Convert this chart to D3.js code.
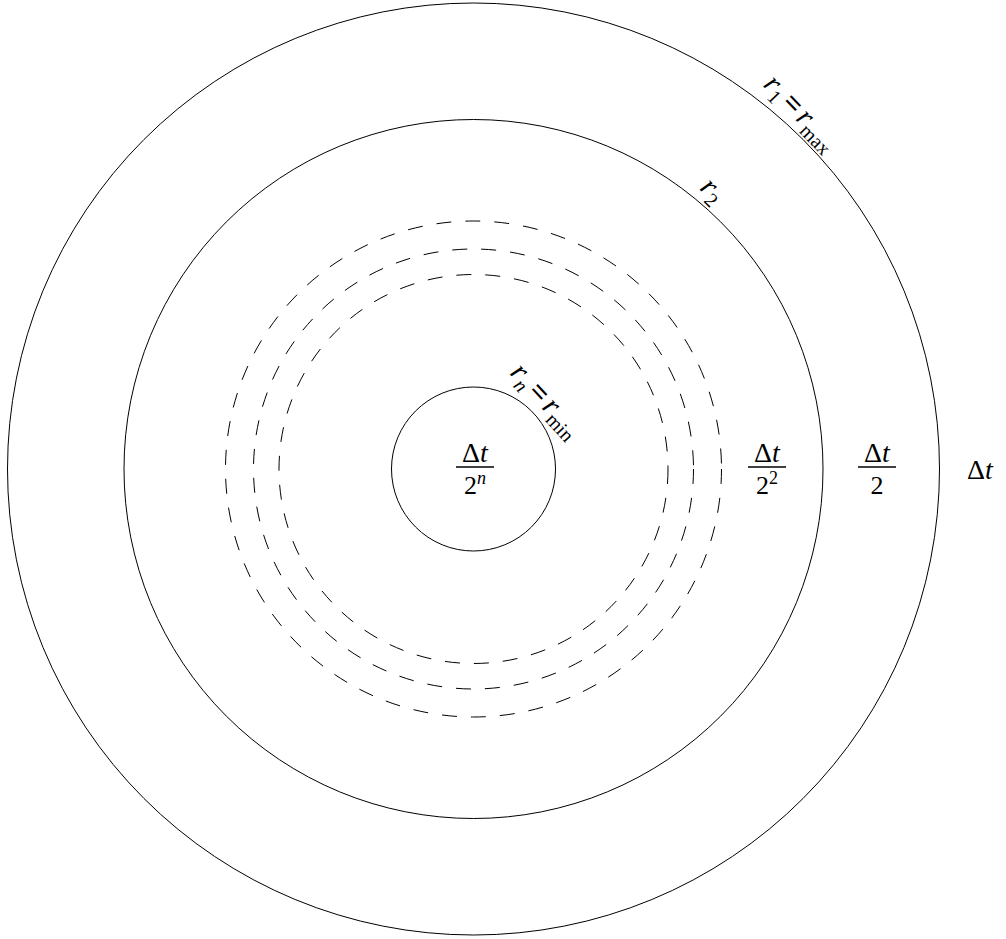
<!DOCTYPE html>
<html><head><meta charset="utf-8">
<script src="https://cdn.jsdelivr.net/npm/d3@7"></script>
<style>
html,body{margin:0;padding:0;background:#fff;}
svg{display:block;}
text{font-family:"Liberation Serif","DejaVu Serif",serif;fill:#000;}
</style></head>
<body>
<svg id="chart" width="1006" height="939"></svg>
<script>
// ---- data ----
const solidRadii = [466, 349.5, 82];          // r1 = rmax, r2, rn = rmin
const dashedRadii = [248, 220, 194.5];        // intermediate levels
const fracNums = ["Δt", "Δt", "Δt", "Δt"];
const fracDens = [["2","n"], ["2","2"], ["2",""], null];
const fracX = [475, 767, 877, 980];           // label positions along the x axis (px)
const radiusLabels = [
  {base:"r", sub:"1", eq:true, base2:"r", sub2:"max", r:466, angle:47.5, rot:46},
  {base:"r", sub:"2", eq:false, r:349.5, angle:49.5, rot:44},
  {base:"r", sub:"n", eq:true, base2:"r", sub2:"min", r:82, angle:43.5, rot:47}
];

const svg = d3.select("#chart");
const cx = 473.5, cy = 469;
const g = svg.append("g").attr("transform", `translate(${cx},${cy})`);

g.selectAll("circle.solid").data(solidRadii).join("circle")
  .attr("class","solid").attr("r", d=>d)
  .attr("fill","none").attr("stroke","#000").attr("stroke-width",1);

g.selectAll("circle.dashed").data(dashedRadii).join("circle")
  .attr("class","dashed").attr("r", d=>d)
  .attr("fill","none").attr("stroke","#000").attr("stroke-width",1)
  .attr("stroke-dasharray","15,14");

// fraction labels
const fs = 28;
fracX.forEach((x,i)=>{
  const lg = svg.append("g").attr("transform",`translate(${x},${cy})`);
  const den = fracDens[i];
  if (den) {
    const num = lg.append("text").attr("text-anchor","middle").attr("y",-7).attr("font-size",fs);
    num.append("tspan").text(fracNums[i][0]);
    num.append("tspan").attr("font-style","italic").text(fracNums[i][1]);
    lg.append("line").attr("x1",-19).attr("x2",19).attr("y1",-2).attr("y2",-2)
      .attr("stroke","#000").attr("stroke-width",1.4);
    const dt = lg.append("text").attr("text-anchor","middle").attr("y",25).attr("font-size",26);
    dt.append("tspan").text(den[0]);
    if (den[1]) dt.append("tspan").attr("dy",-10).attr("font-size",18)
      .attr("font-style", den[1]==="n"?"italic":"normal").text(den[1]);
  } else {
    const t = lg.append("text").attr("text-anchor","middle").attr("y",10).attr("font-size",fs);
    t.append("tspan").text(fracNums[i][0]);
    t.append("tspan").attr("font-style","italic").text(fracNums[i][1]);
  }
});

// radius labels along the circles
radiusLabels.forEach(d=>{
  const a = d.angle*Math.PI/180;
  const rr = d.r + 5;
  const x = rr*Math.cos(a), y = -rr*Math.sin(a);
  const t = g.append("text")
    .attr("transform",`translate(${x},${y}) rotate(${d.rot})`)
    .attr("text-anchor","middle").attr("font-size",30).attr("y",-4);
  t.append("tspan").attr("font-style","italic").text(d.base);
  t.append("tspan").attr("dy",6).attr("font-size",20)
    .attr("font-style", /^\d+$/.test(d.sub)?"normal":"italic").text(d.sub);
  if (d.eq) {
    t.append("tspan").attr("dy",-6).attr("dx",4).attr("font-weight","bold").text("=");
    t.append("tspan").attr("dx",4).attr("font-style","italic").text(d.base2);
    t.append("tspan").attr("dy",6).attr("font-size",20).text(d.sub2);
  }
});
</script>
</body></html>
